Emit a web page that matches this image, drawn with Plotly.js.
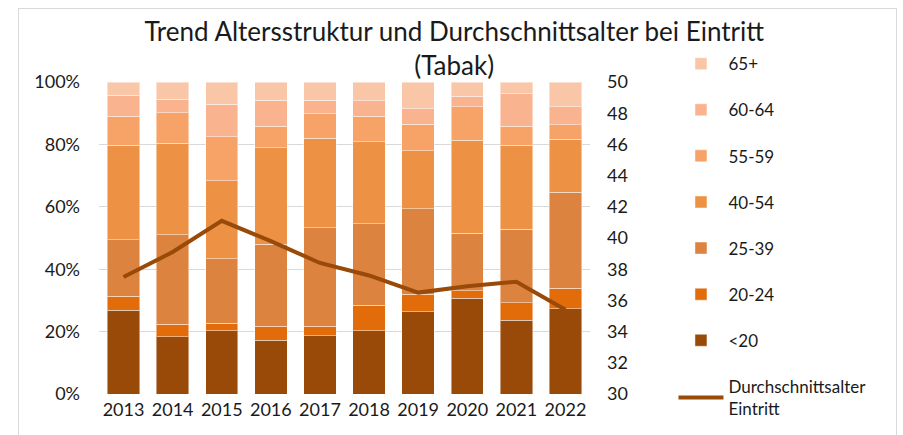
<!DOCTYPE html>
<html>
<head>
<meta charset="utf-8">
<script src="https://cdn.plot.ly/plotly-3.0.1.min.js"></script>
<style>
  html, body { margin: 0; padding: 0; background: #fff; }
  #frame { position: absolute; left: 18px; top: 8px; width: 879px; height: 440px; border: 1px solid #d9d9d9; box-sizing: border-box; }
  #chart { position: absolute; left: 0; top: 0; width: 903px; height: 435px; }
</style>
</head>
<body>
<div id="frame"></div>
<div id="chart"></div>
<script>
const years = ['2013','2014','2015','2016','2017','2018','2019','2020','2021','2022'];
const under20 = [26.9, 18.3, 20.3, 17.3, 18.6, 20.3, 26.3, 30.7, 23.6, 27.3];
const a20_24  = [4.5, 4.1, 2.4, 4.4, 3.1, 8.2, 5.6, 2.4, 5.7, 6.6];
const a25_39  = [18.0, 28.7, 20.7, 26.3, 31.6, 26.1, 27.5, 18.5, 23.5, 30.8];
const a40_54  = [30.3, 29.3, 25.0, 31.0, 28.6, 26.2, 18.6, 29.7, 26.9, 17.0];
const a55_59  = [9.4, 9.8, 14.1, 6.8, 8.0, 8.2, 8.4, 10.7, 6.1, 4.6];
const a60_64  = [6.6, 4.3, 10.3, 8.3, 4.3, 5.0, 5.1, 3.5, 10.5, 5.7];
const a65plus = [4.3, 5.5, 7.2, 5.9, 5.8, 6.0, 8.5, 4.5, 3.7, 8.0];
const avgAge  = [37.5, 39.1, 41.1, 39.8, 38.4, 37.6, 36.5, 36.9, 37.2, 35.4];

const font = 'Lato, "Open Sans", sans-serif';
const seam = {color: 'rgba(255,255,255,0.45)', width: 1};

function bar(name, vals, color, rank) {
  return {type: 'bar', name: name, x: years, y: vals, legendgroup: name, legendrank: rank,
          marker: {color: color, line: seam}, hoverinfo: 'y+name'};
}

const data = [
  {type: 'scatter', mode: 'lines', name: 'Durchschnittsalter<br>Eintritt', x: years, y: avgAge,
   yaxis: 'y2', legendgroup: 'avg', legendrank: 8, line: {color: '#9A4A08', width: 4}},
  bar('<20', under20, '#9A4A08', 7),
  bar('20-24', a20_24, '#E36C0A', 6),
  bar('25-39', a25_39, '#DC843F', 5),
  bar('40-54', a40_54, '#ED9245', 4),
  bar('55-59', a55_59, '#F7A266', 3),
  bar('60-64', a60_64, '#F9B48F', 2),
  bar('65+', a65plus, '#FAC6A8', 1)
];

const layout = {
  width: 903, height: 435,
  margin: {l: 99, r: 313, t: 82, b: 41},
  paper_bgcolor: 'rgba(0,0,0,0)', plot_bgcolor: 'rgba(0,0,0,0)',
  font: {family: font, size: 18, color: '#1a1a1a'},
  barmode: 'stack', bargap: 0.34,
  title: {text: 'Trend Altersstruktur und Durchschnittsalter bei Eintritt<br>(Tabak)',
          font: {family: font, size: 26, color: '#1a1a1a'}, x: 0.503, xanchor: 'center',
          y: 0.905, yanchor: 'middle'},
  xaxis: {type: 'category', showgrid: false, zeroline: false, showline: false,
          ticks: '', tickfont: {size: 18}, ticklabelstandoff: 3},
  yaxis: {range: [0, 100], dtick: 20, ticksuffix: '%', showgrid: true, gridcolor: '#d9d9d9',
          gridwidth: 1, zeroline: false, showline: false, ticks: '', ticklabelstandoff: 18,
          tickfont: {size: 18}},
  yaxis2: {range: [30, 50], dtick: 2, overlaying: 'y', side: 'right', showgrid: false,
           zeroline: false, showline: false, ticks: '', ticklabelstandoff: 16, tickfont: {size: 18}},
  showlegend: true,
  legend: {x: 1.17, xanchor: 'left', y: 1.115, yanchor: 'top', traceorder: 'grouped',
           tracegroupgap: 21, itemwidth: 45, maxheight: 430,
           font: {family: font, size: 17, color: '#1a1a1a'},
           bgcolor: 'rgba(0,0,0,0)'}
};

Plotly.newPlot('chart', data, layout, {displayModeBar: false, staticPlot: true});
</script>
</body>
</html>
